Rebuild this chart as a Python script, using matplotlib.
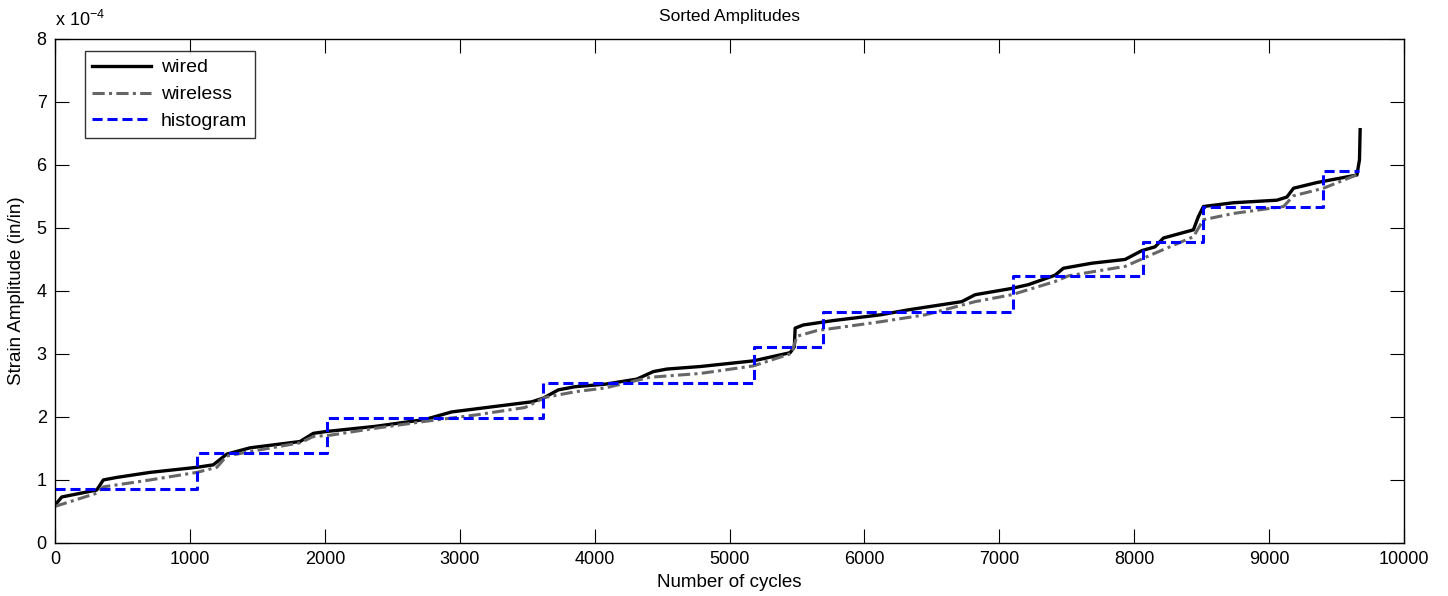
import numpy as np
import matplotlib
matplotlib.use('Agg')
import matplotlib.pyplot as plt

plt.rcParams['font.family'] = ['Liberation Sans', 'DejaVu Sans']

# sorted strain amplitudes (x 1e-4)
wired_x = [0, 50, 309, 358, 457, 704, 1050, 1173, 1273, 1446, 1816, 1915, 2014,
           2372, 2743, 2941, 3237, 3534, 3620, 3731, 3855, 4077, 4312, 4435,
           4535, 4781, 5176, 5449, 5480, 5486, 5547, 5769, 6116, 6325, 6721,
           6820, 7092, 7215, 7413, 7474, 7685, 7932, 8056, 8154, 8216, 8438,
           8475, 8512, 8735, 9056, 9131, 9180, 9353, 9650, 9669, 9674]
wired_y = [0.60, 0.73, 0.84, 1.00, 1.04, 1.12, 1.20, 1.24, 1.41, 1.51, 1.61, 1.74,
           1.77, 1.85, 1.96, 2.08, 2.16, 2.24, 2.30, 2.43, 2.48, 2.52, 2.60,
           2.72, 2.76, 2.80, 2.89, 3.02, 3.11, 3.41, 3.46, 3.53, 3.62, 3.70,
           3.83, 3.94, 4.04, 4.10, 4.25, 4.36, 4.44, 4.50, 4.64, 4.70, 4.84,
           4.97, 5.18, 5.34, 5.40, 5.44, 5.49, 5.63, 5.72, 5.84, 6.08, 6.56]

wireless_x = [0, 309, 358, 704, 1050, 1199, 1273, 1446, 1816, 1915, 2039, 2372,
              2743, 3113, 3484, 3632, 3855, 4077, 4411, 4781, 5176, 5461, 5498,
              5646, 6116, 6449, 6820, 7092, 7413, 7512, 7932, 8154, 8438, 8512,
              8735, 9106, 9180, 9402, 9669]
wireless_y = [0.58, 0.79, 0.89, 1.00, 1.12, 1.20, 1.38, 1.45, 1.59, 1.69, 1.71,
              1.82, 1.93, 2.03, 2.15, 2.31, 2.40, 2.46, 2.63, 2.69, 2.81, 3.01,
              3.28, 3.37, 3.51, 3.62, 3.83, 3.94, 4.15, 4.24, 4.39, 4.60, 4.86,
              5.13, 5.23, 5.34, 5.51, 5.63, 5.86]

hist_edges = [0, 1050, 2014, 3620, 5182, 5695, 7104, 8067, 8512, 9402, 9669]
hist_levels = [0.86, 1.43, 1.98, 2.54, 3.11, 3.66, 4.23, 4.78, 5.34, 5.90]

scale = 1e-4

fig = plt.figure(figsize=(14.48, 5.96), dpi=100)
ax = fig.add_axes([0.038, 0.089, 0.9317, 0.8457])

ax.plot(wired_x, np.array(wired_y) * scale, color='black', lw=2.4, label='wired')
ax.plot(wireless_x, np.array(wireless_y) * scale, color='#666666', lw=2.2,
        dashes=(4, 1.4, 1, 1.4), label='wireless')
ax.step(hist_edges, np.array(hist_levels + [hist_levels[-1]]) * scale, where='post',
        color='#0000ff', lw=2.2, dashes=(3.3, 1.6), label='histogram')

ax.set_xlim(0, 10000)
ax.set_ylim(0, 8e-4)
ax.set_xticks(np.arange(0, 10001, 1000))
ax.set_yticks(np.arange(0, 9) * scale)
ax.set_yticklabels([str(i) for i in range(9)])
ax.tick_params(direction='in', length=10, width=0.8, labelsize=13,
               top=True, right=True, pad=6, colors='black')
for s in ax.spines.values():
    s.set_linewidth(1.0)

ax.set_title('Sorted Amplitudes', fontsize=12.5, pad=13)
ax.set_xlabel('Number of cycles', fontsize=13.5, labelpad=4)
ax.set_ylabel('Strain Amplitude (in/in)', fontsize=13.5, labelpad=8)
fig.text(0.038, 0.967, r'x 10$^{\mathregular{-4}}$', fontsize=13, ha='left', va='center')

leg = ax.legend(loc='upper left', bbox_to_anchor=(0.022, 0.976), borderaxespad=0,
                fontsize=14, frameon=True, fancybox=False, handlelength=3.0,
                labelspacing=0.48, borderpad=0.4, handletextpad=0.5)
leg.get_frame().set_edgecolor('black')
leg.get_frame().set_linewidth(1.0)

fig.savefig('out.png', dpi=100)
